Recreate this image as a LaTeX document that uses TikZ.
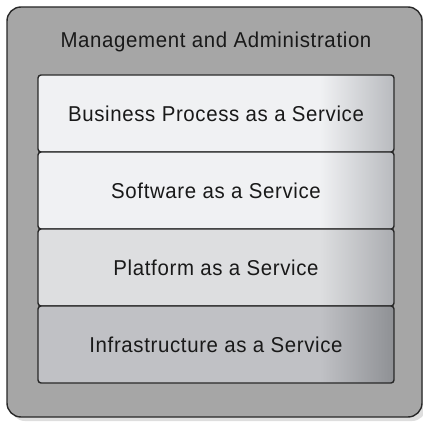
\documentclass[tikz,border=0pt]{standalone}
\usepackage{fontspec}
\setmainfont{Liberation Sans}[FakeStretch=0.95,LetterSpace=3]
\definecolor{outerfill}{RGB}{166,166,166}
\definecolor{edgeline}{RGB}{40,40,40}
\definecolor{shadowc}{RGB}{222,222,222}
\definecolor{baseA}{RGB}{240,241,243}
\definecolor{edgeA}{RGB}{184,186,190}
\definecolor{baseC}{RGB}{221,222,224}
\definecolor{edgeC}{RGB}{170,172,176}
\definecolor{baseD}{RGB}{192,193,197}
\definecolor{edgeD}{RGB}{142,144,148}
\tikzset{
  layertext/.style={font=\fontsize{21.5}{24}\selectfont, text=black!90},
  boxline/.style={draw=edgeline, line width=1.4pt, rounded corners=3pt},
}
\newcommand{\layerbox}[4]{% top, bottom, base, edge
  \fill[#3, rounded corners=3pt] (38,#1) rectangle (394,#2);
  \begin{scope}
    \clip[rounded corners=3pt] (38,#1) rectangle (394,#2);
    \shade[left color=#3, right color=#4] (320,#1) rectangle (394.5,#2);
  \end{scope}
  \draw[boxline] (38,#1) rectangle (394,#2);
}
\begin{document}
\begin{tikzpicture}[x=1pt,y=-1pt]
\useasboundingbox (0,0) rectangle (423,422);
\fill[shadowc, rounded corners=14pt] (11,11) rectangle (426,421);
\draw[fill=outerfill, draw=edgeline, line width=1.4pt, rounded corners=14pt] (7,7) rectangle (422,417);
\node[layertext] (title) at (216,42) {Management and Administration};
\layerbox{75}{152}{baseA}{edgeA}
\layerbox{152}{229}{baseA}{edgeA}
\layerbox{229}{306}{baseC}{edgeC}
\layerbox{306}{383}{baseD}{edgeD}
\node[layertext] (bpaas) at (216,113.5) {Business Process as a Service};
\node[layertext] (saas) at (216,190.5) {Software as a Service};
\node[layertext] (paas) at (216,267.5) {Platform as a Service};
\node[layertext] (iaas) at (216,344.5) {Infrastructure as a Service};
\end{tikzpicture}
\end{document}
